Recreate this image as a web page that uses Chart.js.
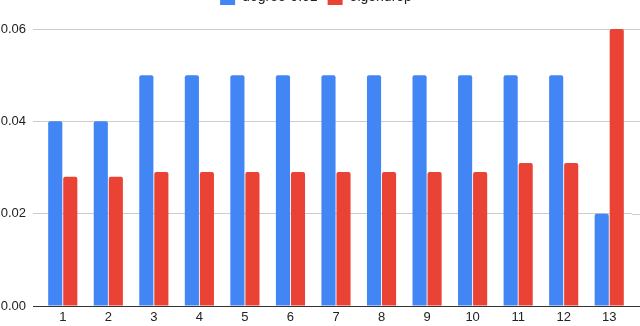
<!DOCTYPE html>
<html>
<head>
<meta charset="utf-8">
<script src="https://cdn.jsdelivr.net/npm/chart.js@4"></script>
<style>
  html, body { margin: 0; padding: 0; background: #fff; overflow: hidden; }
  #wrap { position: absolute; left: 0; top: -20px; width: 640px; height: 346px; }
</style>
</head>
<body>
<div id="wrap"><canvas id="barChart" width="640" height="346"></canvas></div>
<script>
var categories = ["1", "2", "3", "4", "5", "6", "7", "8", "9", "10", "11", "12", "13"];
var degreeValues = [0.04, 0.04, 0.05, 0.05, 0.05, 0.05, 0.05, 0.05, 0.05, 0.05, 0.05, 0.05, 0.02];
var eigendropValues = [0.028, 0.028, 0.029, 0.029, 0.029, 0.029, 0.029, 0.029, 0.029, 0.029, 0.031, 0.031, 0.06];
var yTicks = [0, 0.02, 0.04, 0.06];

var fontFamily = "'Liberation Sans', Arial, sans-serif";

// fixed axis sizes so the plot area lines up with the reference
var fixSize = {
    id: "fixSize",
    beforeInit: function(chart) {
        chart.options.scales.y.afterFit = function(s) { s.width = 40; };
        chart.options.scales.x.afterFit = function(s) { s.height = 20; };
    },
    afterInit: function(chart) {
        var lg = chart.legend;
        var orig = lg.fit;
        lg.fit = function() {
            orig.call(this);
            this.height += 14;
        };
    },
    // grid lines run a little past the plot on the right
    beforeDatasetsDraw: function(chart) {
        var c = chart.ctx, a = chart.chartArea, y = chart.scales.y;
        c.save();
        c.strokeStyle = "#ccc";
        c.lineWidth = 1;
        yTicks.forEach(function(v) {
            if (v === 0) return;
            var py = Math.round(y.getPixelForValue(v)) + 0.5;
            c.beginPath();
            c.moveTo(a.right, py);
            c.lineTo(chart.width, py);
            c.stroke();
        });
        c.strokeStyle = "#333";
        var by = Math.round(y.getPixelForValue(0)) + 0.5;
        c.beginPath();
        c.moveTo(a.left - 7, by);
        c.lineTo(chart.width, by);
        c.stroke();
        c.restore();
    }
};

var ctx = document.getElementById("barChart");
new Chart(ctx, {
    type: "bar",
    data: {
        labels: categories,
        datasets: [{
            label: "degree-0.01",
            data: degreeValues,
            backgroundColor: "#4285F4",
            borderRadius: 2,
            borderSkipped: "bottom",
            categoryPercentage: 0.66,
            barPercentage: 0.94
        }, {
            label: "eigendrop",
            data: eigendropValues,
            backgroundColor: "#EA4335",
            borderRadius: 2,
            borderSkipped: "bottom",
            categoryPercentage: 0.66,
            barPercentage: 0.94
        }]
    },
    options: {
        responsive: false,
        animation: false,
        layout: { padding: { left: 0, right: 8, top: 0, bottom: 0 } },
        plugins: {
            tooltip: { enabled: false },
            legend: {
                position: "top",
                labels: {
                    boxWidth: 15,
                    boxHeight: 15,
                    padding: 10,
                    color: "#222",
                    font: { family: fontFamily, size: 14 }
                }
            }
        },
        scales: {
            x: {
                grid: { display: false, drawTicks: false },
                border: { color: "#333", width: 1 },
                ticks: {
                    color: "#222",
                    padding: 4,
                    font: { family: fontFamily, size: 13 },
                    maxRotation: 0
                }
            },
            y: {
                min: 0,
                max: 0.06,
                afterBuildTicks: function(s) {
                    s.ticks = yTicks.map(function(v) { return { value: v }; });
                },
                grid: { color: "#ccc", tickLength: 7, tickColor: "#ccc" },
                border: { display: false },
                ticks: {
                    color: "#222",
                    padding: 7,
                    font: { family: fontFamily, size: 13 },
                    callback: function(v) { return v.toFixed(2); }
                }
            }
        }
    },
    plugins: [fixSize]
});
</script>
</body>
</html>
